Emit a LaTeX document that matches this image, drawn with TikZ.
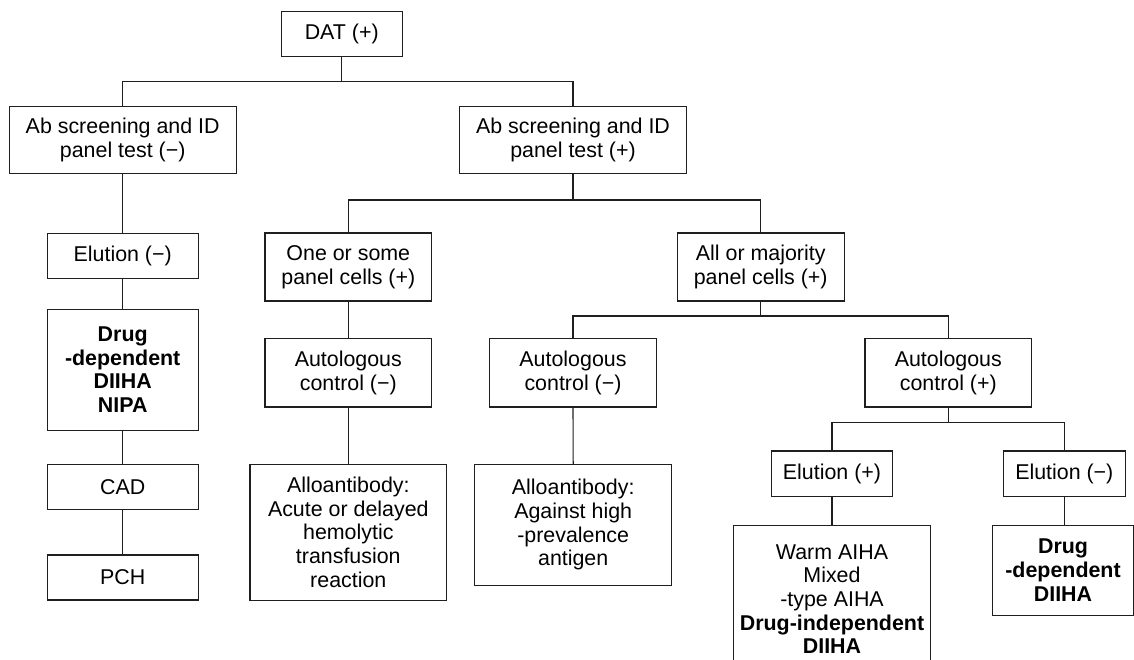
\documentclass[tikz,border=0pt]{standalone}
\usepackage{fontspec}
\setmainfont{Liberation Sans}
\begin{document}
\begin{tikzpicture}[x=1pt,y=-1pt,
  box/.style={draw=black!88, line width=1.1pt, inner sep=0pt, align=center,
    font=\fontsize{21.4}{23.7}\selectfont, text=black},
  conn/.style={draw=black!88, line width=1.1pt}]
\useasboundingbox (0,0) rectangle (1134,659);
% row 1
\node[box, minimum width=121.3pt, minimum height=45.3pt] (dat) at (341.7,33.7) {DAT (+)};
% row 2
\node[box, minimum width=227.3pt, minimum height=67.3pt] (abn) at (122.7,139.7) {Ab screening and ID\\panel test (−)};
\node[box, minimum width=227.3pt, minimum height=67.3pt] (abp) at (573,139.7) {Ab screening and ID\\panel test (+)};
% row 3
\node[box, minimum width=151.3pt, minimum height=45.3pt] (elun) at (122.7,255.7) {Elution (−)};
\node[box, minimum width=166.7pt, minimum height=68pt] (one) at (348.3,267) {One or some\\panel cells (+)};
\node[box, minimum width=167.3pt, minimum height=68pt] (all) at (760.7,267) {All or majority\\panel cells (+)};
% row 4
\node[box, minimum width=151.3pt, minimum height=120.7pt] (drug1) at (122.7,369.7) {\bfseries Drug\\\bfseries -dependent\\\bfseries DIIHA\\\bfseries NIPA};
\node[box, minimum width=166.7pt, minimum height=68.3pt] (auto1) at (348.3,372.8) {Autologous\\control (−)};
\node[box, minimum width=166.7pt, minimum height=68.3pt] (auto2) at (573,372.8) {Autologous\\control (−)};
\node[box, minimum width=166.7pt, minimum height=68.3pt] (autop) at (948.3,372.8) {Autologous\\control (+)};
% row 5
\node[box, minimum width=151.3pt, minimum height=45pt] (cad) at (122.7,486.8) {CAD};
\node[box, minimum width=151.3pt, minimum height=45pt] (pch) at (122.7,577.5) {PCH};
\node[box, minimum width=196.7pt, minimum height=135.7pt] (allo1) at (348.3,532.2) {Alloantibody:\\Acute or delayed\\hemolytic\\transfusion\\reaction};
\node[box, minimum width=197pt, minimum height=120.7pt] (allo2) at (573.2,524.7) {Alloantibody:\\Against high\\-prevalence\\antigen};
\node[box, minimum width=121.7pt, minimum height=45.7pt] (elup) at (832,473.8) {Elution (+)};
\node[box, minimum width=122pt, minimum height=45.7pt] (elun2) at (1064.3,473.8) {Elution (−)};
\node[box, minimum width=197pt, minimum height=147.8pt] (warm) at (832,599.2) {Warm AIHA\\Mixed\\-type AIHA\\\bfseries Drug-independent\\\bfseries DIIHA};
\node[box, minimum width=141pt, minimum height=89.7pt] (drug2) at (1063,570.2) {\bfseries Drug\\\bfseries -dependent\\\bfseries DIIHA};
% bus levels
\coordinate (b1) at (0,81.7);
\coordinate (b2) at (0,200);
\coordinate (b3) at (0,316);
\coordinate (b4) at (0,422.3);
% connectors
\draw[conn] (dat.south) -- (dat.south |- b1);
\draw[conn] (abn.north) -- (abn.north |- b1) -- (abp.north |- b1) -- (abp.north);
\draw[conn] (abp.south) -- (abp.south |- b2);
\draw[conn] (one.north) -- (one.north |- b2) -- (all.north |- b2) -- (all.north);
\draw[conn] (all.south) -- (all.south |- b3);
\draw[conn] (auto2.north) -- (auto2.north |- b3) -- (autop.north |- b3) -- (autop.north);
\draw[conn] (autop.south) -- (autop.south |- b4);
\draw[conn] (elup.north) -- (elup.north |- b4) -- (elun2.north |- b4) -- (elun2.north);
\draw[conn] (abn.south) -- (elun.north);
\draw[conn] (elun.south) -- (drug1.north);
\draw[conn] (drug1.south) -- (cad.north);
\draw[conn] (cad.south) -- (pch.north);
\draw[conn] (one.south) -- (auto1.north);
\draw[conn] (auto1.south) -- (allo1.north);
\draw[conn] (auto2.south) -- (allo2.north);
\draw[conn] (elup.south) -- (warm.north);
\draw[conn] (elun2.south) -- (elun2.south |- drug2.north);
\end{tikzpicture}
\end{document}
